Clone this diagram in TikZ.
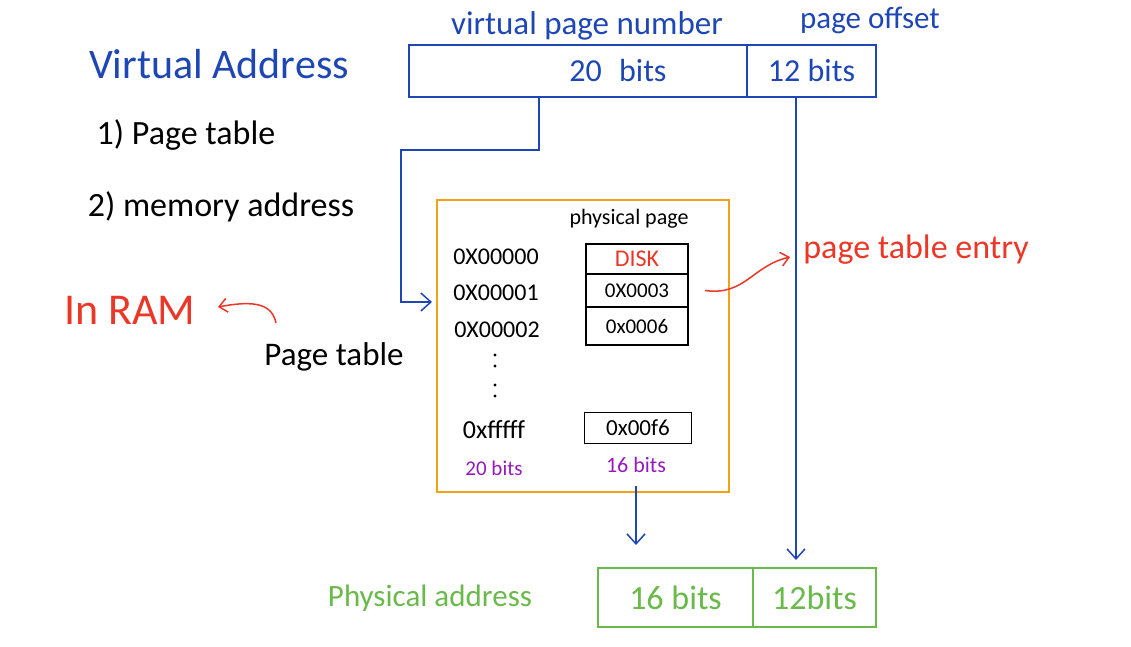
\documentclass[tikz,border=0pt]{standalone}
\usepackage{fontspec}
\setmainfont{Carlito}
\usetikzlibrary{positioning,arrows.meta}
\definecolor{penblue}{RGB}{30,70,180}
\definecolor{penred}{RGB}{235,55,40}
\definecolor{penorange}{RGB}{245,160,25}
\definecolor{penpurple}{RGB}{150,25,190}
\definecolor{pengreen}{RGB}{105,185,75}
\newcommand{\fsz}[1]{\fontsize{#1}{#1}\selectfont}

\begin{document}
\begin{tikzpicture}[x=1pt,y=-1pt,line width=1.6pt,
    every node/.style={inner sep=0pt,outer sep=0pt},
    vcell/.style={draw=penblue,text=penblue,minimum height=52pt,font=\fsz{32}},
    pcell/.style={draw=pengreen,text=pengreen,minimum height=59pt,font=\fsz{34}},
    entry/.style={draw=black,minimum width=102pt,font=\fsz{21}},
    addr/.style={font=\fsz{24}},
    note/.style={font=\fsz{34}},
    pen/.style={-{Straight Barb[length=10pt,width=18pt]},line width=1.5pt}]
  \useasboundingbox (0,0) rectangle (1131,646);

  % notes on the left
  \node[note,text=penblue,font=\fsz{42}] (va) at (219,64) {Virtual Address};
  \node[note] (step1) at (186,135) {1) Page table};
  \node[note] (step2) at (221,207) {2) memory address};
  \node[note,text=penred,font=\fsz{44}] (ram) at (130,310) {In RAM};
  \node[note,font=\fsz{33}] (ptname) at (334,357) {Page table};

  % virtual address
  \node[vcell,minimum width=338pt] (vpn) at (578,71) {\hspace*{80pt}20\hspace{10pt} bits};
  \node[vcell,minimum width=129pt,right=0pt of vpn] (off) {12 bits};
  \node[text=penblue,font=\fsz{33}] (vpnlbl) at (587,26) {virtual page number};
  \node[text=penblue,font=\fsz{31}] (offlbl) at (870,20) {page offset};

  % page table
  \node[draw=penorange,minimum width=292pt,minimum height=292pt] (ptbox) at (583,346) {};
  \node[font=\fsz{22}] (pplbl) at (629,219) {physical page};
  \node[addr] (a0) at (496,257) {0X00000};
  \node[addr] (a1) at (496,293) {0X00001};
  \node[addr] (a2) at (497,330) {0X00002};
  \node[addr,font=\fsz{26}] (af) at (494,430) {0xfffff};
  \foreach \y in {355,366,385,396}
    \fill (495,\y) circle (1.6pt);
  \node[entry,minimum height=30pt,text=penred,font=\fsz{24}] (e0) at (637,259) {DISK};
  \node[entry,minimum height=33pt,below=0pt of e0] (e1) {0X0003};
  \node[entry,minimum height=38pt,below=0pt of e1] (e2) {0x0006};
  \node[entry,minimum width=107pt,minimum height=31pt,font=\fsz{23}] (ef) at (638,428) {0x00f6};
  \node[text=penpurple,font=\fsz{21}] (vbits) at (494,468) {20 bits};
  \node[text=penpurple,font=\fsz{22}] (pbits) at (636,465) {16 bits};
  \node[text=penred,font=\fsz{34}] (pte) at (916,250) {page table entry};

  % physical address
  \node[pcell,minimum width=155pt] (p16) at (675.5,597.5) {16 bits};
  \node[pcell,minimum width=123pt,right=0pt of p16] (p12) {12bits};
  \node[text=pengreen,font=\fsz{31}] (pa) at (430,598) {Physical address};

  % connectors
  \coordinate (bend) at (401,150);
  \coordinate (ptin) at (432,302);
  \coordinate (pftip) at (636,545);
  \coordinate (offtip) at (796,560);
  \coordinate (ramtail) at (276,323);
  \coordinate (ramtip) at (218,307);
  \coordinate (ptetip) at (790,257);
  \draw[penblue,pen] ([xshift=-39pt]vpn.south) |- (bend) |- (ptin);
  \draw[penblue,pen] ([yshift=-13pt]pbits.south) -- (pftip);
  \draw[penblue,pen] ([xshift=-15.5pt]off.south) -- (offtip);
  \draw[penred,pen,-{Straight Barb[length=8pt,width=14pt]}] ([xshift=17pt]e1.east)
    .. controls (745,296) and (752,266) .. (ptetip);
  \draw[penred,pen,-{Straight Barb[length=8pt,width=14pt]}] (ramtail)
    .. controls (272,304) and (255,300) .. (ramtip);
\end{tikzpicture}
\end{document}
